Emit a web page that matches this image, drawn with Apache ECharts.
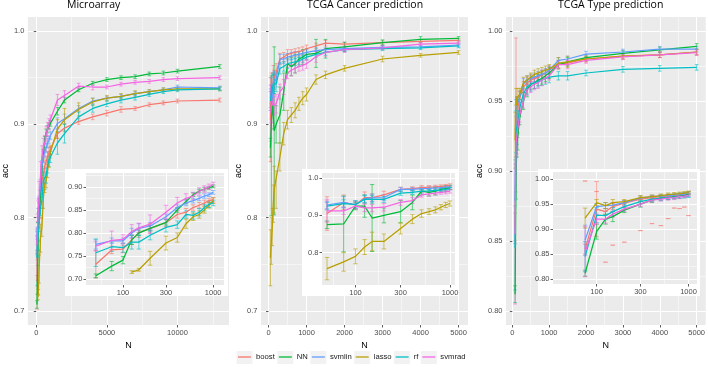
<!DOCTYPE html>
<html><head><meta charset="utf-8">
<script src="https://cdn.jsdelivr.net/npm/echarts@6/dist/echarts.min.js"></script>
<style>html,body{margin:0;padding:0;background:#fff}#c{width:708px;height:369px}</style>
</head><body><div id="c"></div>
<script>
// ---------------- data ----------------
const methods = ['boost', 'NN', 'svmlin', 'lasso', 'rf', 'svmrad'];
const panelTitles = ['Microarray', 'TCGA Cancer prediction', 'TCGA Type prediction'];

const microN = [50, 75, 100, 125, 150, 200, 300, 400, 500, 600, 700, 800, 900, 1000, 1500, 2000, 3000, 4000, 5000, 6000, 7000, 8000, 9000, 10000, 13000];
const microBoost  = [0.732, 0.763, 0.765, 0.785, 0.800, 0.810, 0.822, 0.840, 0.845, 0.855, 0.860, 0.865, 0.870, 0.872, 0.890, 0.896, 0.903, 0.908, 0.912, 0.916, 0.917, 0.921, 0.923, 0.925, 0.926];
const microNN     = [0.707, 0.728, 0.741, 0.785, 0.800, 0.810, 0.823, 0.850, 0.868, 0.883, 0.891, 0.895, 0.898, 0.901, 0.914, 0.926, 0.937, 0.944, 0.948, 0.950, 0.951, 0.954, 0.955, 0.957, 0.962];
const microSvmlin = [0.775, 0.783, 0.783, 0.800, 0.810, 0.815, 0.835, 0.855, 0.865, 0.870, 0.875, 0.880, 0.883, 0.888, 0.901, 0.906, 0.917, 0.925, 0.928, 0.930, 0.933, 0.935, 0.937, 0.940, 0.939];
const microLasso  = [null, null, null, 0.715, 0.720, 0.745, 0.778, 0.790, 0.820, 0.835, 0.840, 0.850, 0.860, 0.870, 0.895, 0.905, 0.916, 0.924, 0.928, 0.930, 0.933, 0.935, 0.937, 0.938, 0.938];
const microRf     = [0.757, 0.770, 0.768, 0.780, 0.780, 0.795, 0.812, 0.818, 0.840, 0.838, 0.845, 0.855, 0.862, 0.865, 0.880, 0.890, 0.908, 0.917, 0.922, 0.926, 0.929, 0.932, 0.935, 0.937, 0.938];
const microSvmrad = [0.771, 0.784, 0.786, 0.803, 0.811, 0.819, 0.845, 0.865, 0.875, 0.880, 0.890, 0.895, 0.900, 0.905, 0.926, 0.931, 0.941, 0.940, 0.940, 0.943, 0.945, 0.946, 0.948, 0.949, 0.950];
const microBoostErr  = [0.030, 0.008, 0.008, 0.010, 0.010, 0.010, 0.008, 0.008, 0.008, 0.006, 0.006, 0.006, 0.005, 0.005, 0.005, 0.004, 0.003, 0.003, 0.003, 0.003, 0.002, 0.002, 0.002, 0.002, 0.002];
const microNNErr     = [0.004, 0.010, 0.008, 0.010, 0.006, 0.006, 0.006, 0.005, 0.005, 0.004, 0.004, 0.004, 0.003, 0.003, 0.004, 0.003, 0.002, 0.002, 0.002, 0.002, 0.002, 0.002, 0.002, 0.002, 0.002];
const microSvmlinErr = [0.010, 0.006, 0.006, 0.010, 0.010, 0.008, 0.006, 0.006, 0.006, 0.005, 0.005, 0.005, 0.004, 0.004, 0.006, 0.005, 0.003, 0.003, 0.002, 0.002, 0.002, 0.002, 0.002, 0.002, 0.002];
const microLassoErr  = [null, null, null, 0.003, 0.003, 0.015, 0.015, 0.010, 0.010, 0.008, 0.008, 0.007, 0.006, 0.006, 0.010, 0.012, 0.007, 0.004, 0.003, 0.003, 0.003, 0.002, 0.002, 0.002, 0.002];
const microRfErr     = [0.030, 0.010, 0.010, 0.015, 0.015, 0.010, 0.010, 0.008, 0.008, 0.008, 0.008, 0.007, 0.007, 0.006, 0.012, 0.010, 0.005, 0.004, 0.003, 0.003, 0.003, 0.002, 0.002, 0.002, 0.002];
const microSvmradErr = [0.010, 0.020, 0.010, 0.015, 0.010, 0.020, 0.015, 0.012, 0.010, 0.008, 0.008, 0.007, 0.006, 0.005, 0.006, 0.005, 0.003, 0.003, 0.002, 0.002, 0.002, 0.002, 0.002, 0.002, 0.002];

const tcgaN = [50, 75, 100, 125, 150, 200, 300, 400, 500, 600, 700, 800, 900, 1000, 1250, 1500, 2000, 3000, 4000, 5000];
const cancerBoost  = [0.905, 0.935, 0.928, 0.948, 0.948, 0.955, 0.970, 0.972, 0.975, 0.976, 0.977, 0.978, 0.979, 0.981, 0.984, 0.987, 0.986, 0.9875, 0.989, 0.990];
const cancerNN     = [0.875, 0.877, 0.925, 0.925, 0.893, 0.900, 0.910, 0.935, 0.965, 0.962, 0.965, 0.970, 0.972, 0.975, 0.976, 0.981, 0.983, 0.9875, 0.991, 0.992];
const cancerSvmlin = [0.928, 0.935, 0.928, 0.945, 0.947, 0.948, 0.970, 0.970, 0.972, 0.973, 0.974, 0.975, 0.976, 0.977, 0.979, 0.980, 0.981, 0.9825, 0.983, 0.985];
const cancerLasso  = [0.757, 0.775, 0.790, 0.815, 0.830, 0.830, 0.865, 0.890, 0.905, 0.910, 0.915, 0.922, 0.928, 0.932, 0.948, 0.953, 0.960, 0.970, 0.974, 0.977];
const cancerRf     = [0.925, 0.932, 0.930, 0.943, 0.943, 0.943, 0.960, 0.962, 0.965, 0.966, 0.967, 0.968, 0.970, 0.972, 0.975, 0.977, 0.980, 0.981, 0.982, 0.984];
const cancerSvmrad = [0.912, 0.912, 0.925, 0.920, 0.920, 0.922, 0.935, 0.940, 0.955, 0.958, 0.960, 0.962, 0.963, 0.965, 0.9725, 0.977, 0.980, 0.982, 0.986, 0.987];
const cancerBoostErr  = [0.045, 0.020, 0.010, 0.015, 0.010, 0.010, 0.006, 0.005, 0.005, 0.004, 0.004, 0.004, 0.004, 0.004, 0.003, 0.003, 0.002, 0.002, 0.002, 0.002];
const cancerNNErr     = [0.010, 0.075, 0.010, 0.030, 0.090, 0.020, 0.030, 0.020, 0.010, 0.010, 0.010, 0.008, 0.008, 0.006, 0.015, 0.010, 0.005, 0.003, 0.003, 0.002];
const cancerSvmlinErr = [0.010, 0.015, 0.010, 0.010, 0.010, 0.008, 0.005, 0.005, 0.004, 0.004, 0.004, 0.003, 0.003, 0.003, 0.003, 0.002, 0.002, 0.002, 0.002, 0.002];
const cancerLassoErr  = [0.030, 0.025, 0.020, 0.020, 0.025, 0.020, 0.015, 0.012, 0.010, 0.008, 0.008, 0.007, 0.007, 0.007, 0.005, 0.004, 0.003, 0.003, 0.002, 0.002];
const cancerRfErr     = [0.010, 0.010, 0.010, 0.010, 0.010, 0.008, 0.006, 0.005, 0.005, 0.004, 0.004, 0.004, 0.004, 0.003, 0.003, 0.003, 0.002, 0.002, 0.002, 0.002];
const cancerSvmradErr = [0.030, 0.010, 0.008, 0.010, 0.010, 0.010, 0.008, 0.008, 0.006, 0.006, 0.005, 0.005, 0.005, 0.005, 0.006, 0.004, 0.003, 0.002, 0.002, 0.002];

const typeN = [75, 100, 125, 150, 200, 300, 400, 500, 600, 700, 800, 900, 1000, 1250, 1500, 2000, 3000, 4000, 5000];
const typeBoost  = [0.860, 0.940, 0.935, 0.945, 0.952, 0.960, 0.963, 0.965, 0.966, 0.967, 0.969, 0.970, 0.972, 0.976, 0.977, 0.980, 0.982, 0.983, 0.985];
const typeNN     = [0.812, 0.895, 0.920, 0.925, 0.938, 0.950, 0.958, 0.962, 0.963, 0.965, 0.966, 0.968, 0.970, 0.976, 0.978, 0.981, 0.984, 0.9865, 0.989];
const typeSvmlin = [0.878, 0.945, 0.947, 0.948, 0.953, 0.962, 0.965, 0.966, 0.967, 0.968, 0.969, 0.970, 0.972, 0.979, 0.980, 0.9835, 0.985, 0.987, 0.987];
const typeLasso  = [0.922, 0.953, 0.947, 0.953, 0.955, 0.963, 0.965, 0.967, 0.969, 0.970, 0.971, 0.972, 0.973, 0.977, 0.978, 0.980, 0.982, 0.983, 0.985];
const typeRf     = [0.845, 0.928, 0.927, 0.935, 0.945, 0.955, 0.960, 0.962, 0.963, 0.964, 0.965, 0.966, 0.967, 0.968, 0.968, 0.970, 0.9726, 0.9733, 0.974];
const typeSvmrad = [0.855, 0.920, 0.920, 0.930, 0.940, 0.950, 0.958, 0.960, 0.962, 0.963, 0.965, 0.966, 0.968, 0.976, 0.976, 0.979, 0.9815, 0.983, 0.9845];
const typeBoostErr  = [0.010, 0.055, 0.006, 0.006, 0.005, 0.004, 0.004, 0.003, 0.003, 0.003, 0.003, 0.003, 0.003, 0.002, 0.002, 0.002, 0.002, 0.002, 0.002];
const typeNNErr     = [0.006, 0.015, 0.010, 0.010, 0.005, 0.006, 0.005, 0.004, 0.004, 0.004, 0.004, 0.004, 0.004, 0.003, 0.003, 0.002, 0.002, 0.002, 0.002];
const typeSvmlinErr = [0.030, 0.006, 0.006, 0.005, 0.004, 0.004, 0.003, 0.003, 0.003, 0.003, 0.003, 0.003, 0.003, 0.002, 0.002, 0.002, 0.002, 0.002, 0.002];
const typeLassoErr  = [0.020, 0.006, 0.006, 0.006, 0.004, 0.004, 0.003, 0.003, 0.003, 0.003, 0.003, 0.003, 0.003, 0.004, 0.004, 0.002, 0.002, 0.002, 0.002];
const typeRfErr     = [0.030, 0.015, 0.008, 0.008, 0.006, 0.005, 0.005, 0.005, 0.004, 0.004, 0.004, 0.004, 0.004, 0.003, 0.003, 0.002, 0.002, 0.002, 0.002];
const typeSvmradErr = [0.050, 0.010, 0.008, 0.006, 0.005, 0.005, 0.004, 0.004, 0.004, 0.004, 0.004, 0.003, 0.003, 0.003, 0.003, 0.002, 0.002, 0.002, 0.002];
// stray boost error-bar caps seen in the TCGA Type inset
const typeBoostStrayN = [75, 100, 125, 150, 200, 300, 400, 500, 600, 700, 800, 900, 1000];
const typeBoostStray  = [0.996, 0.975, 0.834, 0.868, 0.874, 0.897, 0.911, 0.907, 0.921, 0.942, 0.941, 0.944, 0.927];

// tick labels
const microXTicks = [0, 5000, 10000];
const tcgaXTicks = [0, 1000, 2000, 3000, 4000, 5000];
const accTicksWide = [0.7, 0.8, 0.9, 1.0];
const accTicksType = [0.80, 0.85, 0.90, 0.95, 1.00];
const insetNTicks = [100, 300, 1000];
const inset1YTicks = [0.70, 0.75, 0.80, 0.85, 0.90];
const inset2YTicks = [0.8, 0.9, 1.0];
const inset3YTicks = [0.80, 0.85, 0.90, 0.95, 1.00];

// ---------------- build ----------------
const colors = ['#F8766D', '#00BA38', '#619CFF', '#B79F00', '#00BFC4', '#F564E3'];
const panels = [
  {N: microN, acc: [microBoost, microNN, microSvmlin, microLasso, microRf, microSvmrad],
   err: [microBoostErr, microNNErr, microSvmlinErr, microLassoErr, microRfErr, microSvmradErr]},
  {N: tcgaN, acc: [cancerBoost, cancerNN, cancerSvmlin, cancerLasso, cancerRf, cancerSvmrad],
   err: [cancerBoostErr, cancerNNErr, cancerSvmlinErr, cancerLassoErr, cancerRfErr, cancerSvmradErr]},
  {N: typeN, acc: [typeBoost, typeNN, typeSvmlin, typeLasso, typeRf, typeSvmrad],
   err: [typeBoostErr, typeNNErr, typeSvmlinErr, typeLassoErr, typeRfErr, typeSvmradErr]}
];

const log10 = v => Math.log10(v);
// grids: 0-2 main panels, 3-5 insets
const layout = [
  {left: 22, top: 17, width: 207, height: 308, xMin: -597.5, xMax: 13647.5, yMin: 0.685, yMax: 1.015,
   xTicks: microXTicks, yTicks: accTicksWide, yDec: 1, log: false, yNameGap: 11},
  {left: 261, top: 17, width: 207, height: 308, xMin: -197.5, xMax: 5247.5, yMin: 0.685, yMax: 1.015,
   xTicks: tcgaXTicks, yTicks: accTicksWide, yDec: 1, log: false, yNameGap: 13},
  {left: 506, top: 17, width: 200, height: 308, xMin: -171.25, xMax: 5246.25, yMin: 0.79, yMax: 1.01,
   xTicks: tcgaXTicks, yTicks: accTicksType, yDec: 2, log: false, yNameGap: 19},
  {left: 86, top: 173, width: 138, height: 112, xMin: 1.59, xMax: 3.12, yMin: 0.687, yMax: 0.930,
   xTicks: insetNTicks, yTicks: inset1YTicks, yDec: 2, log: true},
  {left: 322, top: 173, width: 133, height: 112, xMin: 1.646, xMax: 3.053, yMin: 0.713, yMax: 1.014,
   xTicks: insetNTicks, yTicks: inset2YTicks, yDec: 1, log: true},
  {left: 553, top: 172, width: 144, height: 112, xMin: 1.526, xMax: 3.092, yMin: 0.7905, yMax: 1.014,
   xTicks: insetNTicks, yTicks: inset3YTicks, yDec: 2, log: true}
];
const insetBoxes = [
  {x: 65, y: 169, w: 163, h: 127},
  {x: 302, y: 169, w: 157, h: 127},
  {x: 538, y: 169, w: 162, h: 127}
];

function minorOf(ticks, lo, hi) {
  const t = ticks.slice();
  const d0 = t[1] - t[0], d1 = t[t.length - 1] - t[t.length - 2];
  t.unshift(t[0] - d0); t.push(t[t.length - 1] + d1);
  const out = [];
  for (let i = 0; i < t.length - 1; i++) {
    const m = (t[i] + t[i + 1]) / 2;
    if (m > lo && m < hi) out.push(m);
  }
  return out;
}

const FONT = 'Liberation Sans, Arial, sans-serif';
const xAxes = [], yAxes = [], grids = [];
layout.forEach((g, gi) => {
  const inset = gi >= 3;
  const zz = inset ? 11 : 0;
  grids.push({left: g.left, top: g.top, width: g.width, height: g.height, show: true,
    backgroundColor: '#EBEBEB', borderWidth: 0, z: zz, containLabel: false});
  const xMajor = g.log ? g.xTicks.map(log10) : g.xTicks;
  const xMinor = minorOf(xMajor, g.xMin, g.xMax);
  const yMinor = minorOf(g.yTicks, g.yMin, g.yMax);
  const lblStyle = {fontSize: 7.5, color: '#4D4D4D', fontFamily: FONT};
  xAxes.push({type: 'value', gridIndex: gi, min: g.xMin, max: g.xMax, z: zz,
    axisLine: {show: false},
    axisTick: {show: true, length: 2.5, lineStyle: {color: '#333', width: 0.8}, customValues: xMajor},
    axisLabel: {show: true, customValues: xMajor, margin: 3.5, ...lblStyle,
      formatter: v => g.log ? String(Math.round(Math.pow(10, v))) : String(Math.round(v))},
    splitLine: {show: true, customValues: xMajor, lineStyle: {color: '#FFFFFF', width: 1}},
    name: inset ? '' : 'N', nameLocation: 'middle', nameGap: 11,
    nameTextStyle: {fontSize: 9, color: '#000', fontFamily: FONT}});
  xAxes.push({type: 'value', gridIndex: gi, min: g.xMin, max: g.xMax, z: zz,
    axisLine: {show: false}, axisLabel: {show: false},
    axisTick: {show: false, customValues: xMinor},
    splitLine: {show: true, customValues: xMinor, lineStyle: {color: '#FFFFFF', width: 0.5}}});
  yAxes.push({type: 'value', gridIndex: gi, min: g.yMin, max: g.yMax, z: zz,
    axisLine: {show: false},
    axisTick: {show: true, length: 2.5, lineStyle: {color: '#333', width: 0.8}, customValues: g.yTicks},
    axisLabel: {show: true, customValues: g.yTicks, margin: 3.5, ...lblStyle,
      formatter: v => v.toFixed(g.yDec)},
    splitLine: {show: true, customValues: g.yTicks, lineStyle: {color: '#FFFFFF', width: 1}},
    name: inset ? '' : 'acc', nameLocation: 'middle', nameGap: g.yNameGap || 10, nameRotate: 90,
    nameTextStyle: {fontSize: 9, color: '#000', fontFamily: FONT}});
  yAxes.push({type: 'value', gridIndex: gi, min: g.yMin, max: g.yMax, z: zz,
    axisLine: {show: false}, axisLabel: {show: false},
    axisTick: {show: false, customValues: yMinor},
    splitLine: {show: true, customValues: yMinor, lineStyle: {color: '#FFFFFF', width: 0.5}}});
});

function errBar(color, cap, alpha, capsOnly) {
  return function (params, api) {
    const x = api.value(0), lo = api.value(1), hi = api.value(2);
    const a = api.coord([x, lo]), b = api.coord([x, hi]);
    const st = {stroke: color, lineWidth: 1, opacity: alpha};
    const kids = [
      {type: 'line', shape: {x1: a[0] - cap, y1: a[1], x2: a[0] + cap, y2: a[1]}, style: st},
      {type: 'line', shape: {x1: b[0] - cap, y1: b[1], x2: b[0] + cap, y2: b[1]}, style: st}
    ];
    if (!capsOnly) kids.push({type: 'line', shape: {x1: a[0], y1: a[1], x2: b[0], y2: b[1]}, style: st});
    return {type: 'group', children: kids};
  };
}

const series = [];
panels.forEach((p, pi) => {
  [false, true].forEach(isInset => {
    const gi = isInset ? 3 + pi : pi;
    methods.forEach((m, mi) => {
      const ys = p.acc[mi], es = p.err[mi];
      const pts = [], bars = [];
      p.N.forEach((n, i) => {
        if (isInset && n > 1000) return;
        if (ys[i] == null) return;
        const x = isInset ? log10(n) : n;
        pts.push([x, ys[i]]);
        if (es[i] != null) bars.push([x, ys[i] - es[i], ys[i] + es[i]]);
      });
      series.push({type: 'line', name: m, xAxisIndex: 2 * gi, yAxisIndex: 2 * gi, data: pts,
        showSymbol: false, symbol: 'none', silent: true, clip: true, z: isInset ? 13 : 3,
        itemStyle: {color: colors[mi]}, lineStyle: {color: colors[mi], width: 1.25}});
      series.push({type: 'custom', name: m, xAxisIndex: 2 * gi, yAxisIndex: 2 * gi, data: bars,
        encode: {x: 0, y: [1, 2]}, silent: true, clip: true, z: isInset ? 12 : 2,
        itemStyle: {color: colors[mi]},
        renderItem: errBar(colors[mi], isInset ? 2.2 : 1.8, 0.6, false)});
    });
  });
});
series.push({type: 'custom', name: 'boost', xAxisIndex: 10, yAxisIndex: 10,
  data: typeBoostStrayN.map((n, i) => [log10(n), typeBoostStray[i], typeBoostStray[i]]),
  encode: {x: 0, y: [1, 2]}, silent: true, clip: true, z: 12, itemStyle: {color: colors[0]},
  renderItem: errBar(colors[0], 2.2, 0.5, true)});

// ---- legend layout (grey key boxes placed under the legend's line icons) ----
const LEG = {left: 238, top: 351, keyW: 13, keyBoxH: 13, gap: 4, fontSize: 7.7};
const mctx = document.createElement('canvas').getContext('2d');
mctx.font = LEG.fontSize + 'px "Liberation Sans", Arial, sans-serif';
const keyBoxes = [];
let lx = LEG.left;
methods.forEach(m => {
  keyBoxes.push({type: 'rect', shape: {x: lx - 1.5, y: LEG.top, width: LEG.keyW + 3, height: LEG.keyBoxH},
    style: {fill: '#F2F2F2'}, z: 1, silent: true});
  lx += LEG.keyW + 5 + mctx.measureText(m).width + LEG.gap;
});

const option = {
  animation: false,
  backgroundColor: '#FFFFFF',
  title: [
    {text: panelTitles[0], left: 67, top: 0},
    {text: panelTitles[1], left: 307, top: 0},
    {text: panelTitles[2], left: 558, top: 0}
  ].map(t => ({...t, padding: 0, textStyle: {fontSize: 10.5, fontWeight: 'normal', color: '#000', fontFamily: 'Open Sans, sans-serif'}})),
  graphic: insetBoxes.map(b => ({type: 'rect', shape: {x: b.x, y: b.y, width: b.w, height: b.h},
    style: {fill: '#FFFFFF'}, z: 10, silent: true})).concat(keyBoxes),
  legend: {
    data: methods.map(m => ({name: m, icon: 'rect'})),
    top: LEG.top + (LEG.keyBoxH - 9) / 2, left: LEG.left, itemWidth: LEG.keyW, itemHeight: 1.3, itemGap: LEG.gap,
    padding: 0, height: 9, z: 5,
    selectedMode: false,
    textStyle: {fontSize: LEG.fontSize, color: '#1A1A1A', fontFamily: FONT}
  },
  grid: grids,
  xAxis: xAxes,
  yAxis: yAxes,
  series: series
};

const chart = echarts.init(document.getElementById('c'), null, {renderer: 'canvas', width: 708, height: 369});
chart.setOption(option);
</script>
</body></html>
